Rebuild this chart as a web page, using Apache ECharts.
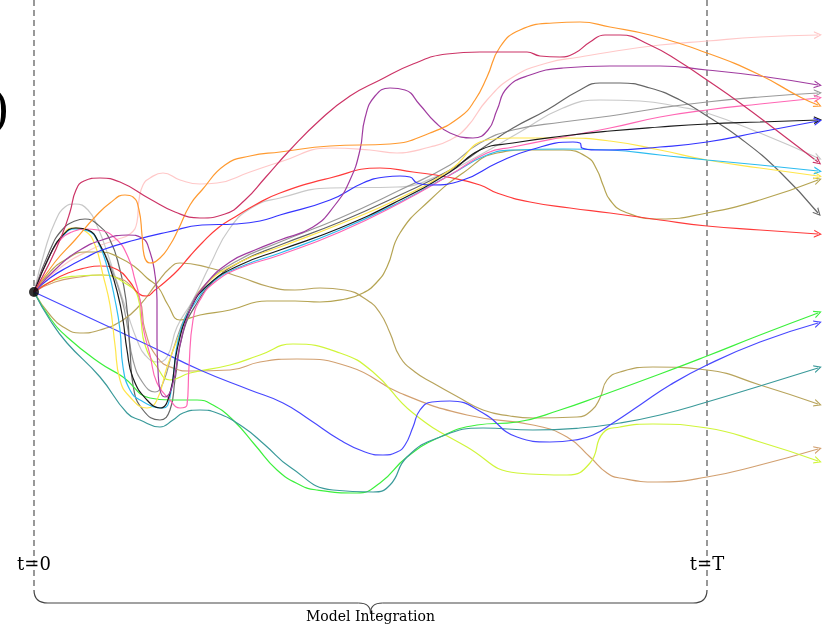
<!DOCTYPE html>
<html><head><meta charset="utf-8">
<script src="https://cdn.jsdelivr.net/npm/echarts@6/dist/echarts.min.js"></script>
<style>html,body{margin:0;padding:0;background:#fff}#c{width:823px;height:627px}</style>
</head><body><div id="c"></div>
<script>
// Trajectories in picture units: x = integration time position, y = state position (initial state at [34,292])
const startPoint = [34, 292];
const tStart = 34, tEnd = 707;

const crimson = [[34,292],[50,262],[62,235],[70,212],[76,190],[84,181],[100,178],[120,182],[150,199],[175,212],[200,218],[225,214],[245,200],[265,178],[290,150],[320,120],[350,96],[380,80],[413,64],[447,54],[480,52],[527,52],[540,56],[560,57],[575,53],[590,42],[605,35],[620,35],[650,45],[680,62],[707,80],[740,103],[780,133],[818,162]];
const orange = [[34,292],[55,262],[75,240],[95,217],[110,203],[125,195],[133,197],[139,210],[142,235],[144,255],[150,263],[160,258],[170,245],[178,230],[190,205],[202,190],[225,165],[250,156],[280,152],[330,146],[390,144],[430,133],[460,117],[475,100],[487,77],[500,47],[520,30],[553,23],[580,22],[610,27],[650,35],[707,53],[760,75],[800,97],[818,105]];
const lightPink = [[34,292],[60,268],[90,250],[115,240],[130,234],[137,222],[139,200],[143,185],[150,178],[163,173],[180,180],[200,184],[217,183],[250,172],[280,162],[330,148],[370,150],[397,153],[430,147],[450,140],[467,127],[487,100],[513,77],[547,63],[580,57],[610,52],[660,45],[707,41],[760,37],[818,35]];
const purple = [[34,292],[60,265],[80,250],[102,240],[128,235],[142,238],[150,252],[155,275],[157,300],[157,340],[158,370],[160,390],[165,397],[172,387],[180,345],[190,310],[205,285],[230,262],[255,250],[280,240],[313,227],[335,205],[350,180],[360,150],[365,118],[375,96],[390,88],[405,90],[420,105],[435,122],[450,133],[473,138],[488,130],[497,110],[507,88],[530,75],[563,68],[610,66],[660,66],[707,70],[760,76],[818,85]];
const darkGray = [[34,292],[50,250],[62,230],[75,221],[85,219],[97,224],[110,240],[120,270],[126,300],[130,350],[133,385],[143,410],[160,420],[170,410],[175,380],[183,333],[197,303],[215,280],[240,262],[280,245],[340,222],[400,195],[450,170],[487,145],[513,128],[547,110],[580,90],[600,83],[620,83],[650,88],[680,100],[707,116],[740,138],[780,172],[818,213]];
const lightGray = [[34,292],[45,250],[55,222],[65,207],[75,204],[88,210],[98,228],[108,255],[118,285],[128,315],[137,340],[145,355],[157,362],[167,357],[177,327],[193,300],[210,265],[230,228],[253,207],[280,198],[330,188],[397,187],[440,175],[480,155],[520,132],[563,108],[600,100],[640,101],[680,107],[707,113],[760,133],[818,158]];
const gray = [[34,292],[50,255],[62,236],[75,228],[88,230],[100,245],[112,270],[122,300],[128,330],[133,360],[143,383],[155,392],[163,383],[173,350],[187,313],[205,285],[235,262],[280,242],[340,218],[400,190],[450,165],[480,143],[513,130],[563,122],[610,116],[660,108],[707,102],[760,97],[818,93]];
const black = [[34,292],[50,255],[62,236],[76,228],[88,230],[100,245],[110,268],[118,295],[123,320],[127,350],[133,378],[147,400],[160,408],[170,393],[177,350],[190,310],[208,285],[240,265],[280,250],[340,228],[400,200],[450,172],[480,150],[513,143],[563,136],[610,131],[660,127],[707,124],[760,122],[818,120]];
const yellow = [[34,292],[50,255],[62,236],[73,228],[85,231],[95,245],[103,275],[110,305],[115,345],[120,380],[130,397],[147,408],[157,400],[167,367],[180,333],[190,310],[205,285],[240,262],[280,247],[340,224],[400,198],[450,170],[487,140],[513,138],[563,138],[610,141],[660,150],[707,160],[760,168],[818,176]];
const hotPink = [[34,292],[50,255],[62,238],[72,232],[85,229],[98,230],[115,238],[128,257],[135,280],[140,300],[143,327],[150,355],[157,383],[170,400],[180,408],[187,405],[189,367],[193,320],[200,300],[215,282],[240,268],[280,255],[340,232],[400,203],[450,175],[487,153],[513,147],[563,137],[610,128],[660,117],[707,110],[760,104],[818,98]];
const cyan = [[34,292],[50,255],[62,237],[75,229],[88,231],[98,242],[108,270],[115,300],[120,330],[123,367],[130,390],[140,400],[163,408],[170,397],[180,333],[197,300],[215,280],[245,265],[280,253],[340,230],[400,202],[450,175],[487,155],[513,150],[563,149],[610,150],[660,155],[707,160],[760,165],[818,171]];
const blue = [[34,292],[50,278],[68,267],[85,258],[102,250],[135,240],[168,232],[202,225],[235,224],[260,221],[280,215],[330,200],[363,183],[385,177],[400,176],[410,177],[417,183],[430,185],[463,180],[497,163],[530,150],[573,142],[580,143],[582,148],[595,150],[610,150],[660,147],[707,142],[760,132],[818,121]];
const red = [[34,292],[50,282],[68,273],[85,268],[100,266],[118,270],[130,282],[138,293],[147,296],[155,290],[165,282],[178,270],[190,256],[202,243],[218,228],[235,217],[255,205],[280,193],[330,178],[380,168],[413,172],[447,177],[480,185],[497,193],[530,202],[570,208],[610,213],[660,220],[707,226],[760,230],[818,234]];
const oliveA = [[34,292],[50,272],[65,260],[85,252],[102,252],[120,258],[135,267],[147,278],[158,287],[168,305],[180,320],[200,315],[230,310],[267,301],[295,301],[320,302],[345,299],[363,293],[377,282],[387,267],[400,233],[430,200],[463,173],[497,153],[530,150],[563,150],[587,157],[597,170],[603,185],[610,200],[625,212],[660,219],[707,213],[760,200],[818,180]];
const oliveB = [[34,292],[50,315],[65,328],[80,333],[100,330],[123,320],[140,305],[157,283],[170,268],[180,263],[210,268],[240,277],[270,287],[295,290],[320,288],[345,290],[367,300],[380,313],[390,333],[400,357],[415,372],[433,383],[458,397],[483,410],[510,416],[533,418],[577,417],[592,410],[600,398],[607,380],[620,372],[653,367],[707,370],[760,385],[818,404]];
const brown = [[34,292],[55,282],[80,277],[100,275],[118,278],[130,285],[140,300],[145,330],[157,357],[173,368],[190,371],[230,370],[260,362],[297,359],[350,367],[400,393],[467,415],[533,425],[567,437],[590,457],[607,473],[620,478],[657,482],[707,477],[760,465],[818,449]];
const lime = [[34,292],[55,280],[78,276],[102,275],[128,285],[138,297],[141,320],[145,345],[157,367],[170,380],[190,373],[230,365],[260,355],[293,344],[340,353],[373,372],[413,413],[467,447],[517,473],[567,475],[590,463],[603,433],[620,427],[653,424],[707,428],[760,442],[818,461]];
const green = [[34,292],[50,318],[67,337],[100,363],[123,377],[150,398],[170,400],[180,400],[197,400],[213,405],[233,420],[255,445],[277,470],[300,485],[317,490],[357,493],[380,483],[407,457],[440,437],[477,425],[517,422],[560,410],[600,396],[660,374],[707,356],[760,335],[818,313]];
const teal = [[34,292],[50,320],[67,343],[100,377],[127,413],[140,420],[160,427],[173,420],[183,413],[200,410],[217,413],[243,427],[265,445],[290,467],[333,490],[373,492],[390,485],[407,457],[440,437],[483,428],[533,430],[580,428],[620,423],[660,415],[707,402],[760,386],[818,368]];
const blue2 = [[34,292],[90,318],[150,346],[200,370],[250,390],[283,403],[310,420],[340,440],[365,452],[383,455],[397,452],[405,445],[413,427],[420,410],[432,402],[450,401],[483,413],[517,437],[550,442],[575,440],[593,435],[613,423],[640,405],[670,385],[707,365],[760,342],[818,323]];

const curves = [
  {name:'lightPink', data: lightPink, color:'#ffc8c8'},
  {name:'lightGray', data: lightGray, color:'#c8c8c8'},
  {name:'gray', data: gray, color:'#9a9a9a'},
  {name:'darkGray', data: darkGray, color:'#666666'},
  {name:'oliveA', data: oliveA, color:'#b5a452'},
  {name:'oliveB', data: oliveB, color:'#b8a45c'},
  {name:'brown', data: brown, color:'#d2a070'},
  {name:'lime', data: lime, color:'#d0f53a'},
  {name:'green', data: green, color:'#3cf03c'},
  {name:'teal', data: teal, color:'#3a9a9a'},
  {name:'blue2', data: blue2, color:'#4848ff'},
  {name:'red', data: red, color:'#ff3a3a'},
  {name:'yellow', data: yellow, color:'#ffe64a'},
  {name:'cyan', data: cyan, color:'#2cbcf0'},
  {name:'hotPink', data: hotPink, color:'#ff66b4'},
  {name:'black', data: black, color:'#1a1a1a'},
  {name:'blue', data: blue, color:'#3434ff'},
  {name:'purple', data: purple, color:'#a03ca0'},
  {name:'orange', data: orange, color:'#ff9a30'},
  {name:'crimson', data: crimson, color:'#cc3366'}
];

const arrowPath = 'path://M0,0L10,5L0,10L0,8.4L7,5L0,1.6Z';

const series = curves.map(c => {
  const n = c.data.length;
  const a = c.data[n-2], b = c.data[n-1];
  const rot = -Math.atan2(b[1]-a[1], b[0]-a[0]) * 180 / Math.PI;
  const data = c.data.map((p, i) => i === n-1 ? {
    value: p, symbol: arrowPath, symbolSize: [8, 8], symbolRotate: rot,
    itemStyle: {color: c.color, borderWidth: 0}
  } : {value: p, symbol: 'none'});
  return {
    type: 'line', name: c.name, data, smooth: 0.5, showSymbol: true, symbol: 'none',
    lineStyle: {color: c.color, width: 1.2}, itemStyle: {color: c.color},
    silent: true, z: 3
  };
});

// dashed time markers
[tStart, tEnd].forEach(t => {
  series.push({
    type: 'line', data: [[t, 0], [t, 590]], symbol: 'none', silent: true, z: 1,
    lineStyle: {color: '#555', width: 1.2, type: [6, 4]}
  });
});

series.push({
  type: 'scatter', data: [startPoint], symbolSize: 10, itemStyle: {color: '#000'}, z: 10, silent: true
});

const chart = echarts.init(document.getElementById('c'), null, {renderer: 'canvas'});
chart.setOption({
  animation: false,
  backgroundColor: '#fff',
  grid: {left: 0, right: 0, top: 0, bottom: 0},
  xAxis: {type: 'value', min: 0, max: 823, show: false},
  yAxis: {type: 'value', min: 0, max: 627, inverse: true, show: false},
  series
});

// annotations (brace and labels) placed via the axes
const P = (x, y) => chart.convertToPixel({gridIndex: 0}, [x, y]);
const yTop = 590, yMid = 603, yTip = 613, xm = (tStart + tEnd) / 2;
const bs = {stroke: '#444', lineWidth: 1.2, fill: 'none'};
function bez(p1, cp, p2) {
  const a = P(...p1), c = P(...cp), b = P(...p2);
  return {type: 'bezierCurve', shape: {x1: a[0], y1: a[1], cpx1: c[0], cpy1: c[1], x2: b[0], y2: b[1]}, style: bs, silent: true};
}
function seg(p1, p2) {
  const a = P(...p1), b = P(...p2);
  return {type: 'line', shape: {x1: a[0], y1: a[1], x2: b[0], y2: b[1]}, style: bs, silent: true};
}
const serif = '"DejaVu Serif", "Liberation Serif", serif';
function txt(x, y, s, size, align, fam) {
  const p = P(x, y);
  return {type: 'text', x: p[0], y: p[1], style: {text: s, font: size + 'px ' + (fam || serif), fill: '#000', align: align || 'center', verticalAlign: 'middle'}, silent: true, z: 20};
}
chart.setOption({
  graphic: [
    bez([tStart, yTop], [tStart, yMid], [tStart + 14, yMid]),
    seg([tStart + 14, yMid], [xm - 12, yMid]),
    bez([xm - 12, yMid], [xm, yMid], [xm, yTip]),
    bez([xm, yTip], [xm, yMid], [xm + 12, yMid]),
    seg([xm + 12, yMid], [tEnd - 14, yMid]),
    bez([tEnd - 14, yMid], [tEnd, yMid], [tEnd, yTop]),
    txt(tStart, 565, 't=0', 18),
    txt(tEnd, 565, 't=T', 18),
    txt(xm, 617, 'Model Integration', 14),
    txt(-9, 110, ')', 52, 'left', '"Liberation Serif", serif')
  ]
});
</script></body></html>
